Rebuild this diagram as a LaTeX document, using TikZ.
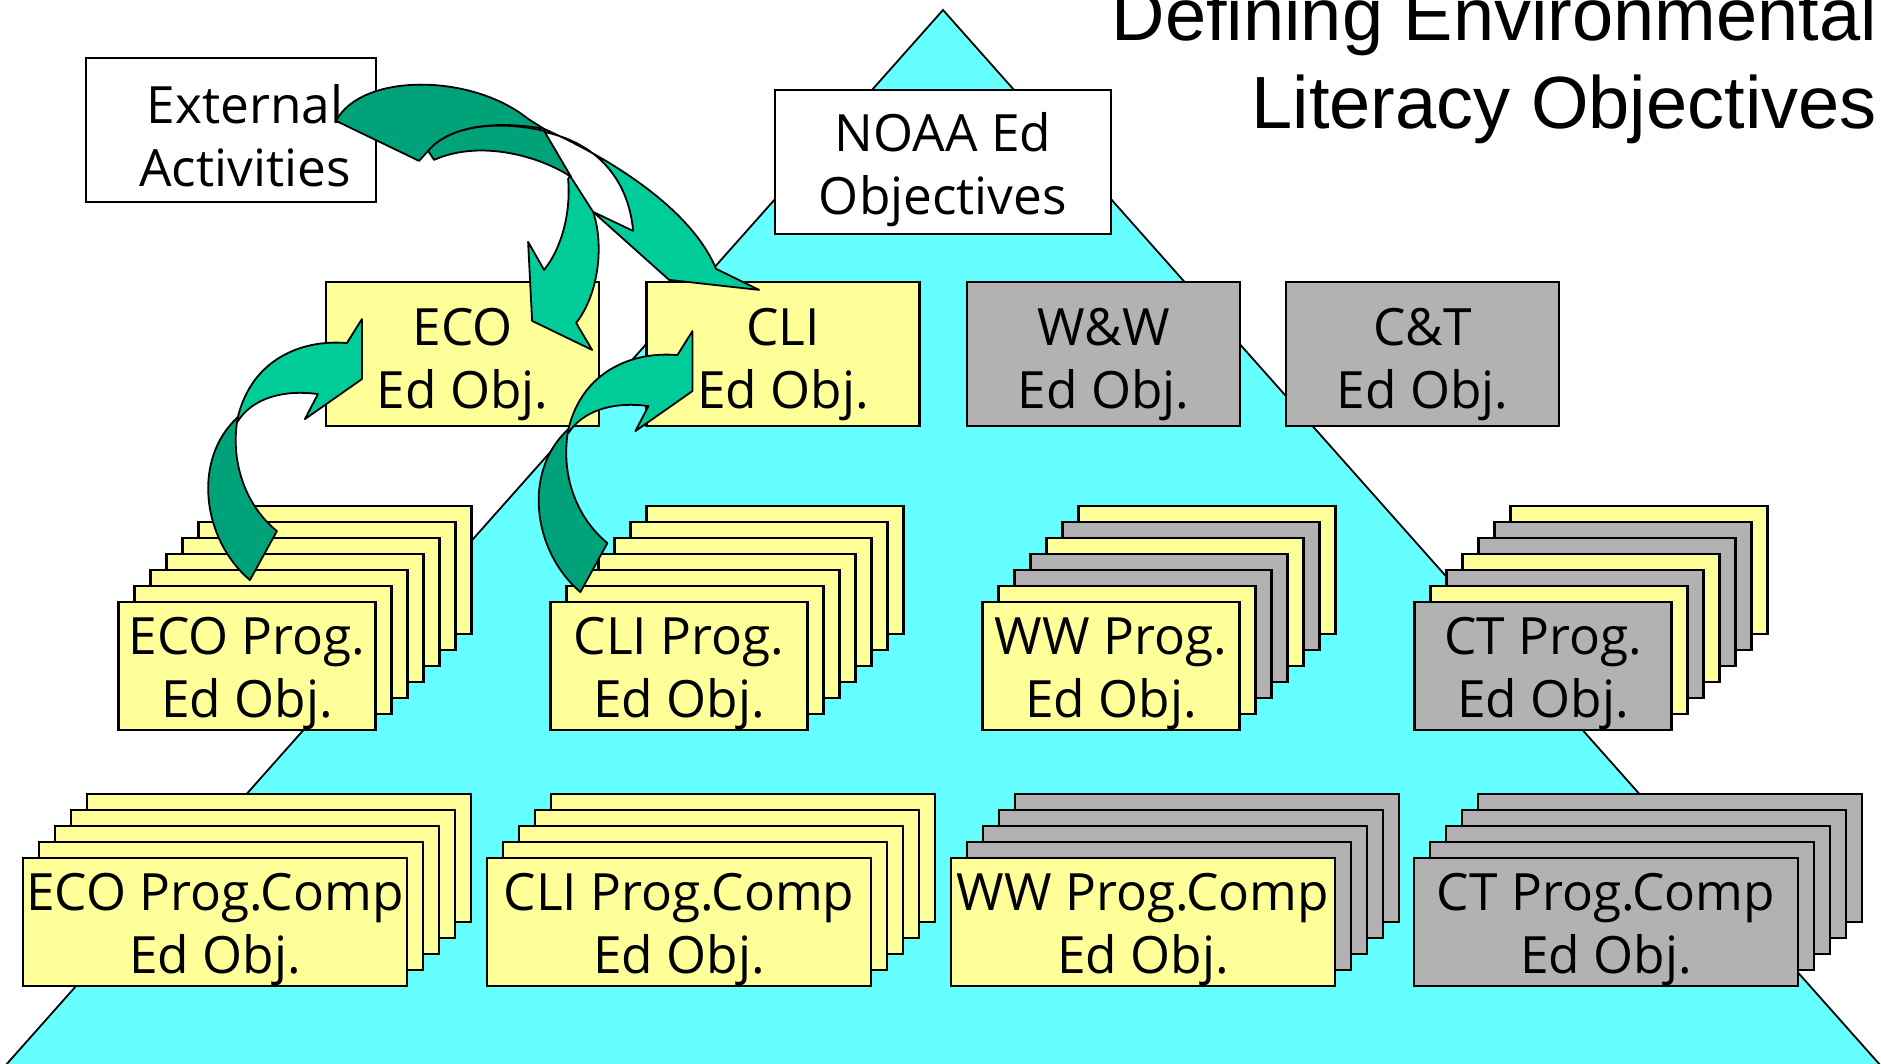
\documentclass[tikz,border=0pt]{standalone}
\usepackage{fontspec}
\setmainfont{Open Sans}
\newfontfamily\titlefont{Liberation Sans}
\usepackage{xcolor}
\usepackage{tikz}

\definecolor{pyramid}{HTML}{66FFFF}
\definecolor{paleyel}{HTML}{FFFF99}
\definecolor{greybox}{HTML}{B2B2B2}
\definecolor{arrowlit}{HTML}{00CC99}
\definecolor{arrowdark}{HTML}{00A27A}

\tikzset{
    box/.style={draw, line width=2.2pt, align=center, inner sep=0pt,
        font=\fontsize{51.4}{63}\selectfont},
    topbox/.style={box, fill=white},
    edbox/.style={box, minimum width=273pt, minimum height=144pt, text height=122pt},
    progcard/.style={box, minimum width=257pt, minimum height=128pt, text height=116pt},
    compcard/.style={box, minimum width=384pt, minimum height=128pt, text height=116pt},
    backband/.style={fill=arrowdark, draw, line width=1.8pt, line join=round},
    frontband/.style={fill=arrowlit, draw, line width=1.8pt, line join=round},
    curlarrow/.pic={
        \filldraw[backband] (-85,152) -- (-112,201)
            .. controls (-160,160) and (-170,80) .. (-124,38)
            .. controls (-132,80) and (-118,125) .. (-85,152) -- cycle;
        \filldraw[frontband] (-124,38)
            .. controls (-110,-20) and (-60,-40) .. (-15,-36)
            -- (0,-60) -- (0,0) -- (-57,40) -- (-44,15)
            .. controls (-80,10) and (-110,20) .. (-124,42) -- cycle;
    }
}

\begin{document}
\begin{tikzpicture}[x=1pt, y=-1pt]
    \useasboundingbox (0,0) rectangle (1881,1064);

    % pyramid
    \fill[pyramid] (-3,1075) -- (943,10) -- (1889,1075) -- cycle;
    \draw[line width=1.8pt] (-3,1075) -- (943,10) -- (1889,1075);

    % title
    \node[anchor=south east, inner sep=0pt, align=right,
        font=\titlefont\fontsize{74}{88}\selectfont] (title) at (1877,144)
        {Defining Environmental\\Literacy Objectives};

    % top level
    \node[topbox, minimum width=290pt, minimum height=144pt, text height=114pt,
        execute at begin node={\hspace*{28pt}}] (ext) at (231,130) {External\\Activities};
    \node[topbox, minimum width=336pt, minimum height=144pt, text height=118pt] (noaa) at (943,162) {NOAA Ed\\Objectives};

    % theme objectives
    \node[edbox, fill=paleyel] (ecoed) at (462.5,354) {ECO\\Ed Obj.};
    \node[edbox, fill=paleyel] (clied) at (783,354) {CLI\\Ed Obj.};
    \node[edbox, fill=greybox] (wwed) at (1103.5,354) {W\&W\\Ed Obj.};
    \node[edbox, fill=greybox] (cted) at (1422.5,354) {C\&T\\Ed Obj.};

    % program objectives, back cards first
    \foreach \c [count=\k] in {paleyel,paleyel,paleyel,paleyel,paleyel,paleyel}
        \node[progcard, fill=\c] (ecoprog-\k) at ({247+16*(7-\k)},{666-16*(7-\k)}) {};
    \node[progcard, fill=paleyel] (ecoprog) at (247,666) {ECO Prog.\\Ed Obj.};
    \foreach \c [count=\k] in {paleyel,paleyel,paleyel,paleyel,paleyel,paleyel}
        \node[progcard, fill=\c] (cliprog-\k) at ({679+16*(7-\k)},{666-16*(7-\k)}) {};
    \node[progcard, fill=paleyel] (cliprog) at (679,666) {CLI Prog.\\Ed Obj.};
    \foreach \c [count=\k] in {paleyel,greybox,paleyel,greybox,greybox,paleyel}
        \node[progcard, fill=\c] (wwprog-\k) at ({1111+16*(7-\k)},{666-16*(7-\k)}) {};
    \node[progcard, fill=paleyel] (wwprog) at (1111,666) {WW Prog.\\Ed Obj.};
    \foreach \c [count=\k] in {paleyel,greybox,greybox,paleyel,greybox,paleyel}
        \node[progcard, fill=\c] (ctprog-\k) at ({1543+16*(7-\k)},{666-16*(7-\k)}) {};
    \node[progcard, fill=greybox] (ctprog) at (1543,666) {CT Prog.\\Ed Obj.};

    % program component objectives
    \foreach \c [count=\k] in {paleyel,paleyel,paleyel,paleyel}
        \node[compcard, fill=\c] (ecocomp-\k) at ({215+16*(5-\k)},{922-16*(5-\k)}) {};
    \node[compcard, fill=paleyel] (ecocomp) at (215,922) {ECO Prog.Comp\\Ed Obj.};
    \foreach \c [count=\k] in {paleyel,paleyel,paleyel,paleyel}
        \node[compcard, fill=\c] (clicomp-\k) at ({679+16*(5-\k)},{922-16*(5-\k)}) {};
    \node[compcard, fill=paleyel] (clicomp) at (679,922) {CLI Prog.Comp\\Ed Obj.};
    \foreach \c [count=\k] in {greybox,greybox,greybox,greybox}
        \node[compcard, fill=\c] (wwcomp-\k) at ({1143+16*(5-\k)},{922-16*(5-\k)}) {};
    \node[compcard, fill=paleyel] (wwcomp) at (1143,922) {WW Prog.Comp\\Ed Obj.};
    \foreach \c [count=\k] in {greybox,greybox,greybox,greybox}
        \node[compcard, fill=\c] (ctcomp-\k) at ({1606+16*(5-\k)},{922-16*(5-\k)}) {};
    \node[compcard, fill=greybox] (ctcomp) at (1606,922) {CT Prog.Comp\\Ed Obj.};

    % curled arrows from the programs up to the themes
    \coordinate (ecotip) at ([shift={(37,-48)}]ecoed.south west);
    \coordinate (clitip) at ([shift={(47,-36)}]clied.south west);
    \pic at (ecotip) {curlarrow};
    \pic at (clitip) {curlarrow};

    % arrows from the external activities
    \begin{scope}[shift={(ext.north east)}]
        \filldraw[backband] (-41,64) .. controls (-16,16) and (94,16) .. (151,62)
            -- (167,72) .. controls (124,64) and (74,67) .. (51,94) -- (42,104) -- cycle;
        \filldraw[frontband] (167,72) .. controls (234,102) and (314,152) .. (339,212)
            -- (382,233) -- (292,223) -- (216,155) -- (256,174)
            .. controls (252,127) and (224,87) .. (167,75) -- cycle;
        \filldraw[backband] (51,94) .. controls (74,67) and (124,64) .. (167,74)
            -- (194,120) .. controls (164,100) and (104,82) .. (57,103) -- cycle;
        \filldraw[frontband] (193,119) -- (216,155)
            .. controls (227,187) and (222,237) .. (199,266)
            -- (215,293) -- (155,264) -- (151,185) -- (167,213)
            .. controls (184,192) and (194,157) .. (191,122) -- cycle;
    \end{scope}
\end{tikzpicture}
\end{document}
